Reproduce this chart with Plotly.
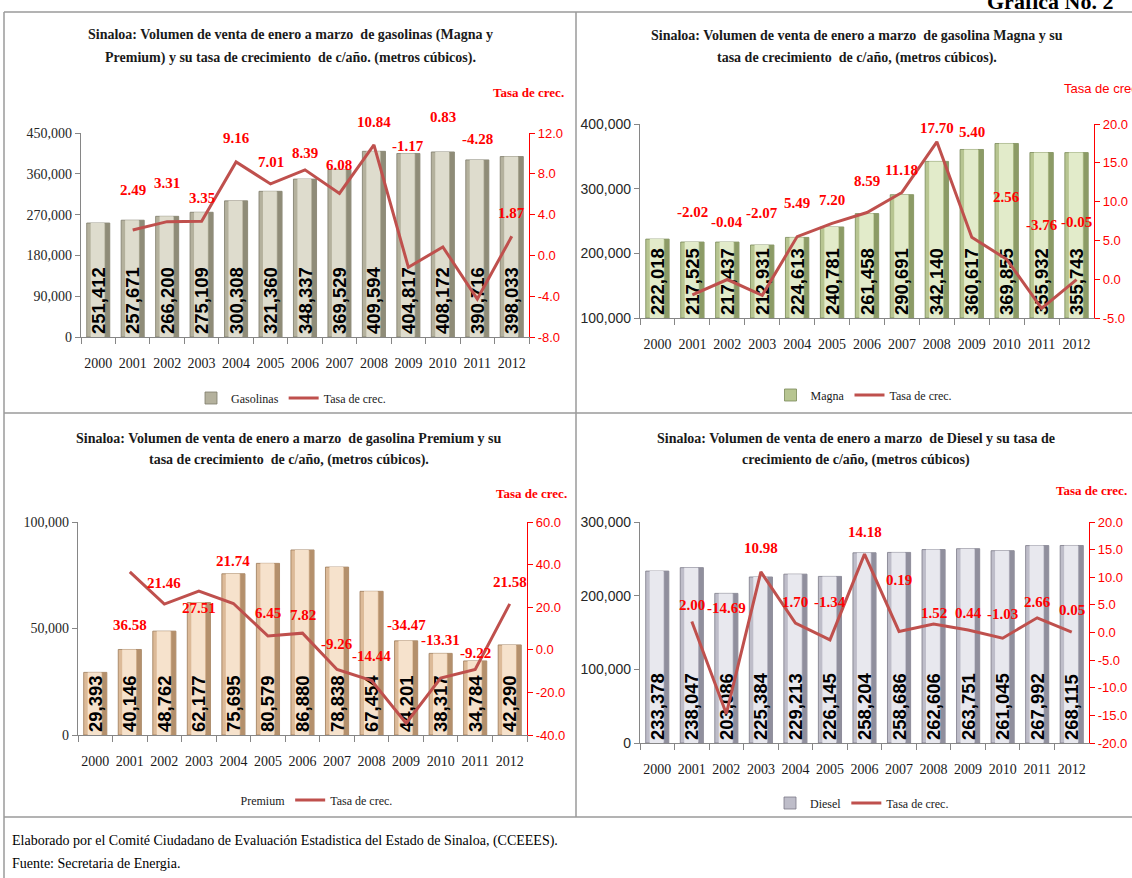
import plotly.graph_objects as go

# ---------------- data ----------------
years = ["2000", "2001", "2002", "2003", "2004", "2005", "2006",
         "2007", "2008", "2009", "2010", "2011", "2012"]

gasolinas = [251412, 257671, 266200, 275109, 300308, 321360, 348337,
             369529, 409594, 404817, 408172, 390716, 398033]
gasolinas_tasa = [None, 2.49, 3.31, 3.35, 9.16, 7.01, 8.39, 6.08, 10.84,
                  -1.17, 0.83, -4.28, 1.87]

magna = [222018, 217525, 217437, 212931, 224613, 240781, 261458,
         290691, 342140, 360617, 369855, 355932, 355743]
magna_tasa = [None, -2.02, -0.04, -2.07, 5.49, 7.20, 8.59, 11.18, 17.70,
              5.40, 2.56, -3.76, -0.05]

premium = [29393, 40146, 48762, 62177, 75695, 80579, 86880,
           78838, 67454, 44201, 38317, 34784, 42290]
premium_tasa = [None, 36.58, 21.46, 27.51, 21.74, 6.45, 7.82, -9.26, -14.44,
                -34.47, -13.31, -9.22, 21.58]

diesel = [233378, 238047, 203086, 225384, 229213, 226145, 258204,
          258686, 262606, 263751, 261045, 267992, 268115]
diesel_tasa = [None, 2.00, -14.69, 10.98, 1.70, -1.34, 14.18, 0.19, 1.52,
               0.44, -1.03, 2.66, 0.05]

# tick values
gas_left_ticks = [0, 90000, 180000, 270000, 360000, 450000]
gas_right_ticks = [-8, -4, 0, 4, 8, 12]
magna_left_ticks = [100000, 200000, 300000, 400000]
magna_right_ticks = [-5, 0, 5, 10, 15, 20]
premium_left_ticks = [0, 50000, 100000]
premium_right_ticks = [-40, -20, 0, 20, 40, 60]
diesel_left_ticks = [0, 100000, 200000, 300000]
diesel_right_ticks = [-20, -15, -10, -5, 0, 5, 10, 15, 20]

# ---------------- label placement (pixel offsets, up = positive) ----------------
gas_label_dy = [None, 40, 39, 23, 24, 22, 17, 28, 23, 121, 130, 160, 23]
magna_label_dy = [None, 83, 58, 82, 34, 23, 32, 22, 14, 105, 62, 83, 58]
premium_label_dy = [None, -53, 21, -17, 42, 23, 18, 26, 25, 98, 38, 16, 22]
diesel_label_dy = [None, 16, 106, 24, 21, 38, 22, 51, 11, 17, 24, 16, 22]

W, H = 1132, 878


def fx(px):
    return px / W


def fy(py):
    return 1 - py / H


SERIF = "Liberation Serif"
SANS = "Liberation Sans"
LINE_COLOR = "#bf504d"
AXIS_GRAY = "#868686"

# bar shading: (body, highlight, right shade, outline)
panels = [
    dict(bars=gasolinas, rate=gasolinas_tasa, dy=gas_label_dy, name="Gasolinas",
         lticks=gas_left_ticks, rticks=gas_right_ticks, lrange=[0, 450000], rrange=[-8, 12],
         box=(81, 529, 133, 337), shade=("#b4b19d", "#dedccd", "#8f8c78", "#7d7b69"),
         lfont=SERIF, swatch_visible=True,
         title=["Sinaloa: Volumen de venta de enero a marzo  de gasolinas (Magna y",
                "Premium) y su tasa de crecimiento  de c/año. (metros cúbicos)."],
         tx=290, ty=(35, 58), tasa=(528, 92, SERIF, True), leg=(291, 398)),
    dict(bars=magna, rate=magna_tasa, dy=magna_label_dy, name="Magna",
         lticks=magna_left_ticks, rticks=magna_right_ticks, lrange=[100000, 400000], rrange=[-5, 20],
         box=(640, 1094, 124, 318), shade=("#b7c591", "#e2ebca", "#8c9b66", "#7a8958"),
         lfont=SANS, swatch_visible=True,
         title=["Sinaloa: Volumen de venta de enero a marzo  de gasolina Magna y su",
                "tasa de crecimiento  de c/año, (metros cúbicos)."],
         tx=857, ty=(35, 58), tasa=(1102, 88, SANS, False), leg=(864, 395)),
    dict(bars=premium, rate=premium_tasa, dy=premium_label_dy, name="Premium",
         lticks=premium_left_ticks, rticks=premium_right_ticks, lrange=[0, 100000], rrange=[-40, 60],
         box=(78, 527, 522, 735), shade=("#dcba98", "#f6e2cc", "#b4906c", "#9c7a58"),
         lfont=SERIF, swatch_visible=False,
         title=["Sinaloa: Volumen de venta de enero a marzo  de gasolina Premium y su",
                "tasa de crecimiento  de c/año, (metros cúbicos)."],
         tx=289, ty=(438, 460), tasa=(531, 493, SERIF, True), leg=(299, 800)),
    dict(bars=diesel, rate=diesel_tasa, dy=diesel_label_dy, name="Diesel",
         lticks=diesel_left_ticks, rticks=diesel_right_ticks, lrange=[0, 300000], rrange=[-20, 20],
         box=(640, 1089, 522, 743), shade=("#bebdc9", "#e8e8ee", "#908f9d", "#7b7a88"),
         lfont=SANS, swatch_visible=True,
         title=["Sinaloa: Volumen de venta de enero a marzo  de Diesel y su tasa de",
                "crecimiento de c/año, (metros cúbicos)"],
         tx=856, ty=(438, 460), tasa=(1091, 490, SERIF, True), leg=(862, 803)),
]

BAR_W = 0.67

fig = go.Figure()
layout = dict(
    width=W, height=H, margin=dict(l=0, r=0, t=0, b=0, pad=0, autoexpand=False),
    paper_bgcolor="white", plot_bgcolor="rgba(0,0,0,0)",
    font=dict(family=SERIF, color="#1a1a1a"),
    showlegend=True,
)
annotations = []

for i, p in enumerate(panels, start=1):
    xa = "x" if i == 1 else f"x{i}"
    yl_n = 2 * i - 1
    yr_n = 2 * i
    yl = "y" if yl_n == 1 else f"y{yl_n}"
    yr = f"y{yr_n}"
    leg = "legend" if i == 1 else f"legend{i}"
    x0, x1, y0, y1 = p["box"]
    base = p["lrange"][0]
    body, light, dark, outline = p["shade"]
    heights = [v - base for v in p["bars"]]

    # body of the bar
    fig.add_trace(go.Bar(
        x=years, y=heights, base=base, width=BAR_W, offset=-BAR_W / 2,
        marker=dict(color=body, line=dict(color=outline, width=0.8)),
        name=p["name"], xaxis=xa, yaxis=yl, legend=leg, hoverinfo="skip",
        showlegend=p["swatch_visible"],
    ))
    # highlight band
    fig.add_trace(go.Bar(
        x=years, y=heights, base=base, width=0.40, offset=-0.22,
        marker=dict(color=light, line=dict(width=0)),
        xaxis=xa, yaxis=yl, showlegend=False, hoverinfo="skip",
    ))
    # right shade band
    fig.add_trace(go.Bar(
        x=years, y=heights, base=base, width=0.13, offset=BAR_W / 2 - 0.135,
        marker=dict(color=dark, line=dict(width=0)),
        xaxis=xa, yaxis=yl, showlegend=False, hoverinfo="skip",
    ))
    # value text on top of everything
    fig.add_trace(go.Bar(
        x=years, y=heights, base=base, width=BAR_W, offset=-BAR_W / 2,
        text=[f"{v:,}" for v in p["bars"]],
        textposition="inside", insidetextanchor="start", textangle=-90,
        constraintext="none",
        textfont=dict(family=SANS, size=18.5, color="black", weight="bold"),
        marker=dict(color="rgba(0,0,0,0)", line=dict(width=0)),
        name=p["name"], xaxis=xa, yaxis=yl, legend=leg, hoverinfo="skip",
        showlegend=not p["swatch_visible"],
    ))
    fig.add_trace(go.Scatter(
        x=years, y=p["rate"], mode="lines",
        line=dict(color=LINE_COLOR, width=3),
        name="Tasa de crec.", xaxis=xa, yaxis=yr, legend=leg, hoverinfo="skip",
    ))

    xkey = "xaxis" if i == 1 else f"xaxis{i}"
    ylkey = "yaxis" if yl_n == 1 else f"yaxis{yl_n}"
    yrkey = f"yaxis{yr_n}"
    layout[xkey] = dict(
        domain=[fx(x0), fx(x1)], anchor=yl, type="category", range=[-0.5, 12.5],
        showline=True, linecolor=AXIS_GRAY, linewidth=1.2,
        ticks="outside", tickson="boundaries", ticklen=6, tickcolor=AXIS_GRAY,
        tickangle=0, automargin=False, ticklabelstandoff=13,
        tickfont=dict(family=SERIF, size=14, color="#1a1a1a"),
        showgrid=False, zeroline=False, fixedrange=True,
    )
    layout[ylkey] = dict(
        domain=[fy(y1), fy(y0)], anchor=xa, range=p["lrange"],
        tickvals=p["lticks"], ticktext=[f"{v:,}" for v in p["lticks"]],
        showline=True, linecolor=AXIS_GRAY, linewidth=1.2,
        ticks="outside", ticklen=5, tickcolor=AXIS_GRAY, automargin=False,
        tickfont=dict(family=p["lfont"], size=14, color="#262626"),
        showgrid=False, zeroline=False,
    )
    layout[yrkey] = dict(
        overlaying=yl, side="right", anchor=xa, range=p["rrange"],
        tickvals=p["rticks"], ticktext=[f"{v:.1f}" for v in p["rticks"]],
        showline=True, linecolor="#ff0000", linewidth=1.2,
        ticks="outside", ticklen=5, tickcolor="#ff0000", automargin=False,
        tickfont=dict(family=SANS, size=13, color="#ff0000"),
        showgrid=False, zeroline=False,
    )
    layout[leg] = dict(
        x=fx(p["leg"][0]), y=fy(p["leg"][1]), xanchor="center", yanchor="middle",
        orientation="h", bgcolor="rgba(0,0,0,0)", itemwidth=30,
        font=dict(family=SERIF, size=12, color="#1a1a1a"),
    )

    # titles
    for line, ty in zip(p["title"], p["ty"]):
        annotations.append(dict(
            text=f"<b>{line}</b>", xref="paper", yref="paper",
            x=fx(p["tx"]), y=fy(ty), xanchor="center", yanchor="middle",
            showarrow=False, font=dict(family=SERIF, size=14, color="#1a1a1a"),
        ))
    # right axis caption
    tx_, ty_, tfam, tbold = p["tasa"]
    annotations.append(dict(
        text="<b>Tasa de crec.</b>" if tbold else "Tasa de crec.",
        xref="paper", yref="paper", x=fx(tx_), y=fy(ty_),
        xanchor="center", yanchor="middle", showarrow=False,
        font=dict(family=tfam, size=13, color="#ff0000"),
    ))
    # rate labels (x given as category index)
    for k, (val, dy) in enumerate(zip(p["rate"], p["dy"])):
        if val is None:
            continue
        annotations.append(dict(
            text=f"<b>{val:.2f}</b>", xref=xa, yref=yr, x=k, y=val,
            yshift=dy, xanchor="center", yanchor="middle", showarrow=False,
            font=dict(family=SERIF, size=15, color="#ff0000"),
        ))

# header & footer
annotations.append(dict(
    text="<b>Gráfica No. 2</b>", xref="paper", yref="paper",
    x=fx(985), y=fy(2), xanchor="left", yanchor="middle", showarrow=False,
    font=dict(family=SERIF, size=22, color="#000000"),
))
annotations.append(dict(
    text="Elaborado por el Comité Ciudadano de Evaluación Estadistica del Estado de Sinaloa, (CCEEES).",
    xref="paper", yref="paper", x=fx(10), y=fy(841), xanchor="left", yanchor="middle",
    showarrow=False, font=dict(family=SERIF, size=14, color="#000000"),
))
annotations.append(dict(
    text="Fuente: Secretaria de Energia.",
    xref="paper", yref="paper", x=fx(10), y=fy(863), xanchor="left", yanchor="middle",
    showarrow=False, font=dict(family=SERIF, size=14, color="#000000"),
))
layout["annotations"] = annotations

FRAME = "#9a9a9a"
layout["shapes"] = [
    dict(type="line", xref="paper", yref="paper", x0=fx(4), x1=fx(4), y0=fy(12), y1=0,
         line=dict(color=FRAME, width=1.5)),
    dict(type="line", xref="paper", yref="paper", x0=fx(4), x1=1, y0=fy(12), y1=fy(12),
         line=dict(color=FRAME, width=1.5)),
    dict(type="line", xref="paper", yref="paper", x0=fx(4), x1=1, y0=fy(413), y1=fy(413),
         line=dict(color=FRAME, width=1.5)),
    dict(type="line", xref="paper", yref="paper", x0=fx(4), x1=1, y0=fy(817), y1=fy(817),
         line=dict(color=FRAME, width=1.5)),
    dict(type="line", xref="paper", yref="paper", x0=fx(576), x1=fx(576), y0=fy(12), y1=fy(817),
         line=dict(color=FRAME, width=1.5)),
]

fig.update_layout(**layout)

PAGE_FIX = (
    "document.documentElement.style.margin='0';"
    "document.documentElement.style.overflow='hidden';"
    "document.body.style.margin='0';"
    "document.body.style.overflow='hidden';"
    "var d=document.getElementById('{plot_id}');"
    "d.style.position='fixed';d.style.top='0px';d.style.left='0px';"
)
fig.write_html(
    "out.html",
    config={"displayModeBar": False},
    post_script=PAGE_FIX,
)
